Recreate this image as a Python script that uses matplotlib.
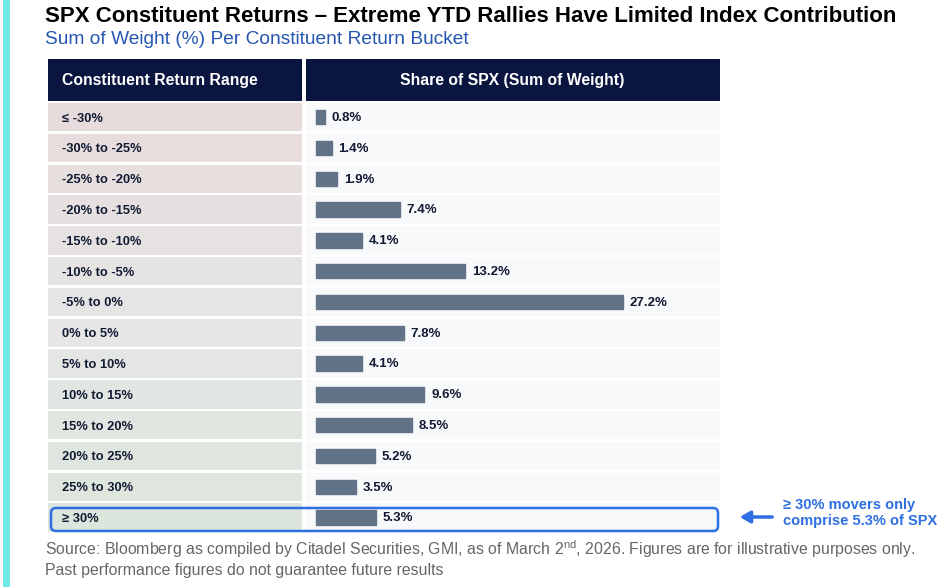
import matplotlib
matplotlib.use('Agg')
import matplotlib.pyplot as plt
from matplotlib.patches import Rectangle, FancyBboxPatch
from matplotlib.colors import to_rgb
import numpy as np

plt.rcParams['font.family'] = ['Liberation Sans', 'DejaVu Sans']
plt.rcParams['mathtext.fontset'] = 'custom'
plt.rcParams['mathtext.rm'] = 'Liberation Sans'

# Data
buckets = ['≤ -30%', '-30% to -25%', '-25% to -20%', '-20% to -15%', '-15% to -10%',
           '-10% to -5%', '-5% to 0%', '0% to 5%', '5% to 10%', '10% to 15%',
           '15% to 20%', '20% to 25%', '25% to 30%', '≥ 30%']
weights = [0.8, 1.4, 1.9, 7.4, 4.1, 13.2, 27.2, 7.8, 4.1, 9.6, 8.5, 5.2, 3.5, 5.3]

title = 'SPX Constituent Returns – Extreme YTD Rallies Have Limited Index Contribution'
subtitle = 'Sum of Weight (%) Per Constituent Return Bucket'
col_headers = ['Constituent Return Range', 'Share of SPX (Sum of Weight)']
note = ['≥ 30% movers only', 'comprise 5.3% of SPX']
source = ['Source: Bloomberg as compiled by Citadel Securities, GMI, as of March $2^{\\mathrm{nd}}$, 2026. '
          'Figures are for illustrative purposes only.',
          'Past performance figures do not guarantee future results']

W, H = 941, 587
navy = '#0b1640'
bar_col = '#637387'
blue = '#2e6fe2'

fig = plt.figure(figsize=(W / 100, H / 100), dpi=100)
bg = fig.add_axes([0, 0, 1, 1])
bg.set_xlim(0, W)
bg.set_ylim(H, 0)
bg.axis('off')

# cyan strip on the left
bg.add_patch(Rectangle((3, 0), 7, H, color='#70e9e7', lw=0))

bg.text(45, 17, title, fontsize=16, fontweight='bold', color='black', va='center')
bg.text(45, 40, subtitle, fontsize=13.8, color='#2456b0', va='center')

# header
x0, xm, x1 = 48, 304, 720
bg.add_patch(Rectangle((x0, 59), xm - x0 - 2, 42, color=navy, lw=0))
bg.add_patch(Rectangle((xm + 2, 59), x1 - xm - 2, 42, color=navy, lw=0))
bg.text(62, 80, col_headers[0], fontsize=11.3, fontweight='bold', color='white', va='center')
bg.text((xm + x1) / 2, 80, col_headers[1], fontsize=11.3, fontweight='bold', color='white',
        va='center', ha='center')

# rows
top, rh = 103, 30.8
n = len(buckets)
pink = np.array(to_rgb('#e7dbdb'))
grey = np.array(to_rgb('#e6e6e6'))
green = np.array(to_rgb('#dce6dc'))
for i, lab in enumerate(buckets):
    t = i / (n - 1)
    c = pink + (grey - pink) * t * 2 if t < 0.5 else grey + (green - grey) * (t - 0.5) * 2
    y = top + i * rh
    bg.add_patch(Rectangle((x0, y), xm - x0 - 2, rh - 2.5, color=c, lw=0))
    bg.add_patch(Rectangle((xm + 2, y), x1 - xm - 2, rh - 2.5, color='#f8f9fb', lw=0))
    bg.text(62, y + (rh - 2.5) / 2 + 1.5, lab, fontsize=9.3, fontweight='bold', color='#111a33',
            va='center')

# highlight box around the last row
bg.add_patch(FancyBboxPatch((51, 508), 667, 23, boxstyle='round,pad=0,rounding_size=5',
                            fc='none', ec=blue, lw=1.8))
bg.annotate('', xy=(737, 517), xytext=(775, 517),
            arrowprops=dict(arrowstyle='-|>,head_length=0.6,head_width=0.35', color=blue, lw=2.5))
bg.text(783, 505, note[0], fontsize=10.5, fontweight='bold', color=blue, va='center')
bg.text(783, 521, note[1], fontsize=10.5, fontweight='bold', color=blue, va='center')

bg.text(45, 549, source[0], fontsize=11.4, color='#666666', va='center')
bg.text(45, 571, source[1], fontsize=11.4, color='#666666', va='center')

# bar axes over the right column
px = 11.29  # pixels per percentage point
ax = fig.add_axes([(xm + 2) / W, 1 - (top + n * rh) / H, (x1 - xm - 2) / W, n * rh / H])
ax.set_xlim(-(316 - xm - 2) / px, (x1 - 316) / px)
ax.set_ylim(n - 0.5 + 0.04, -0.5 + 0.04)
ax.axis('off')
ax.patch.set_alpha(0)
yy = np.arange(n)
ax.barh(yy, weights, height=0.47, color=bar_col, edgecolor=bar_col, lw=1, joinstyle='round')
for y, v in zip(yy, weights):
    ax.text(v + 0.6, y + 0.03, f'{v:.1f}%', fontsize=9.5, fontweight='bold', color='#111a33',
            va='center')

fig.savefig('out.png', dpi=100)
